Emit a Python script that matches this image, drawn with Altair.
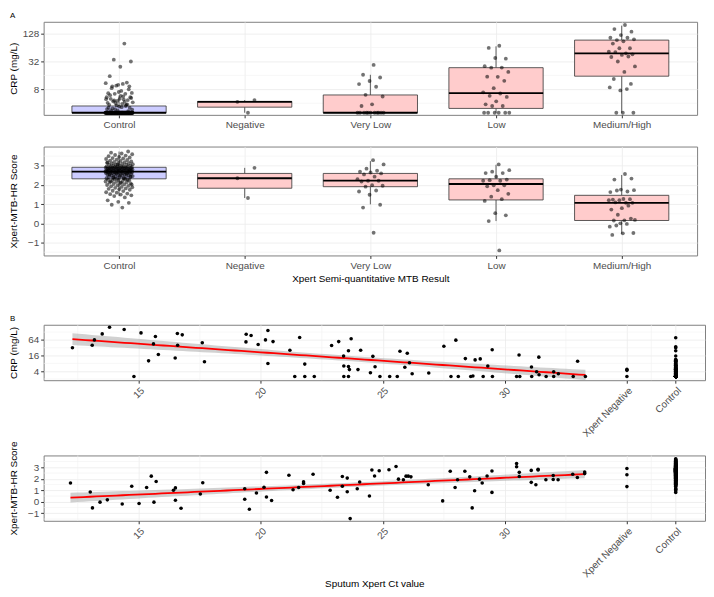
import json
import altair as alt
import numpy as np
import pandas as pd

FONT = "Liberation Sans"
groups = ["Control", "Negative", "Very Low", "Low", "Medium/High"]
box_fills = ["#CCCCFF", "#FFCCCC", "#FFCCCC", "#FFCCCC", "#FFCCCC"]

# ---------------- Panel A: CRP (mg/L) by Xpert semi-quantitative group ----------------
crp_control = [2.5] * 115 + [
    78, 35, 32, 24.6, 15.4, 11.2, 9.6, 10.9, 10.5, 9.3,
    9.3, 7.0, 6.6, 6.4, 6.4, 6.7, 7.4, 5.0, 4.7, 4.5,
    5.4, 4.8, 4.4, 5.4, 5.0, 3.7, 3.7, 4.0, 4.2, 3.9,
    8.5, 8.0, 10.0, 4.1, 4.3, 4.6, 5.2, 5.8, 6.0, 3.8,
    3.6, 4.9, 5.6, 3.1, 3.2, 3.4, 3.2, 3.5, 3.0, 2.9,
    3.3, 2.8, 2.7, 2.8, 3.0]
crp_negative = [2.5, 4.3, 4.7]
crp_verylow = [27, 16.5, 14.4, 12.1, 10.4, 9.1, 6.1, 5.6, 3.8, 3.5,
               2.5, 2.5, 2.5, 2.5, 2.5, 2.5, 2.5, 2.5, 2.5, 2.5, 2.5]
crp_low = [70, 62.8, 36.8, 38, 25.3, 23.6, 23.5, 19, 14.9, 15, 12.2, 8.5, 6.9,
           6.5, 5.8, 5.5, 4.4, 3.8, 3.5, 3.5, 2.5, 2.5, 2.5, 2.5, 2.5, 2.5]
crp_medhigh = [196, 160, 141, 119, 104, 104, 92.6, 96, 87, 78, 61.7, 61.7, 52,
               48, 51, 45.6, 44.4, 40, 41, 32, 25, 19, 13.4, 10.5, 7.6, 8.8, 8.1,
               2.5, 2.5, 2.5]

# box statistics (CRP)
crp_q1 = [2.5, 3.3, 2.5, 3.1, 15.4]
crp_med = [2.5, 4.3, 2.5, 6.6, 48]
crp_q3 = [3.5, 4.4, 6.05, 23.5, 92.6]
crp_lo = [2.5, 2.5, 2.5, 2.5, 2.5]
crp_hi = [5.8, 4.7, 16.5, 68, 190]

# ---------------- Panel A: Xpert-MTB-HR score ----------------
score_control = [
    0.82, 0.97, 1.07, 1.12, 1.2, 1.35, 1.42, 1.46, 1.5, 1.52, 1.55, 1.6, 1.62,
    1.68, 1.7, 1.75, 1.78, 1.8, 1.82, 1.85, 1.88, 1.9, 1.93, 1.95, 1.98,
    2.0, 2.03, 2.05, 2.08, 2.1, 2.12, 2.14, 2.16, 2.18, 2.2, 2.22, 2.24, 2.26,
    2.28, 2.3, 2.31, 2.02, 2.11, 2.19, 2.27,
    2.33, 2.35, 2.36, 2.38, 2.4, 2.41, 2.42, 2.44, 2.45, 2.46, 2.48, 2.5, 2.51,
    2.52, 2.53, 2.55, 2.56, 2.57, 2.58, 2.59, 2.6, 2.61, 2.62, 2.62, 2.63, 2.64,
    2.64, 2.65, 2.65, 2.66, 2.66, 2.67, 2.67, 2.68, 2.68, 2.69, 2.34, 2.39,
    2.43, 2.47, 2.54, 2.6, 2.63,
    2.7, 2.7, 2.71, 2.71, 2.72, 2.72, 2.73, 2.73, 2.74, 2.74, 2.75, 2.75, 2.76,
    2.76, 2.77, 2.77, 2.78, 2.78, 2.79, 2.8, 2.8, 2.81, 2.82, 2.82, 2.83, 2.84,
    2.85, 2.85, 2.86, 2.87, 2.88, 2.88, 2.89, 2.9, 2.9, 2.91, 2.91, 2.79, 2.83,
    2.86, 2.89, 2.92, 2.92,
    2.93, 2.94, 2.95, 2.96, 2.97, 2.98, 3.0, 3.01, 3.02, 3.04, 3.05, 3.06, 3.08,
    3.1, 3.12, 3.13, 3.15, 3.17, 3.19, 3.2, 3.22, 3.25, 3.27, 3.3, 3.32, 3.35,
    3.38, 3.4, 3.43, 3.46, 3.5, 3.53, 3.56, 3.6, 3.64, 3.68, 3.74, 3.05, 3.15]
score_negative = [1.32, 2.35, 2.89]
score_verylow = [-0.49, 0.82, 0.97, 1.49, 1.66, 1.71, 1.91, 1.96, 1.99, 2.18,
                 2.22, 2.22, 2.3, 2.43, 2.55, 2.6, 2.65, 2.69, 2.74, 2.85, 3.07, 3.29]
score_low = [-1.41, 0.12, 0.42, 0.53, 1.17, 1.26, 1.39, 1.54, 1.73, 1.93, 1.98,
             1.98, 2.22, 2.22, 2.25, 2.28, 2.43, 2.62, 2.62, 2.69, 2.77, 3.07]
score_medhigh = [2.57, 2.28, 2.33, 1.76, 1.63, 1.66, 1.71, 1.73, 1.27, 1.24, 1.26,
                 1.21, 1.21, 1.07, 1.09, 1.07, 0.79, 0.72, 0.92, 0.45, 0.18, 0.16,
                 0.15, 0.25, 0.0, -0.17, -0.03, -0.11, -0.5, -0.52, -0.6]

sc_q1 = [2.32, 1.83, 1.91, 1.22, 0.15]
sc_med = [2.69, 2.35, 2.22, 2.05, 1.07]
sc_q3 = [2.92, 2.6, 2.6, 2.32, 1.46]
sc_lo = [1.42, 1.32, 0.99, 0.12, -0.54]
sc_hi = [3.74, 2.89, 3.24, 3.05, 2.52]

# ---------------- Panel B: Ct value vs CRP / score ----------------
b1_ct = [12.28, 13.09, 13.18, 13.5, 13.8, 14.4, 14.8, 15.09, 15.4, 15.6,
         15.68, 15.8, 16.49, 16.58, 16.59, 16.78, 17.6, 17.69, 19.4, 19.39,
         19.6, 19.89, 20.19, 20.29, 20.29, 20.5, 21.19, 21.59, 21.39, 21.8,
         21.8, 22.19, 22.9, 23.19, 23.39, 23.4, 23.4, 23.59, 23.59, 23.59,
         23.7, 23.63, 23.98, 24.09, 24.49, 24.59, 24.68, 24.88, 25.28, 25.59,
         25.7, 25.9, 26.0, 26.09, 26.2, 26.88, 27.5, 27.79, 27.99, 28.09,
         28.38, 28.6, 28.69, 28.78, 28.99, 29.11, 29.3, 29.48, 29.49, 30.48,
         30.58, 30.61, 31.09, 31.1, 31.3, 31.39, 31.4, 31.69, 32.0, 32.0,
         32.19, 32.8, 32.98, 33.3]
b1_crp = [32.1, 39.6, 64, 109, 198, 161, 2.5, 119, 10, 45,
          86, 17.6, 12.8, 112, 39.6, 100, 49.6, 9.3, 105, 53.6,
          94, 42.5, 64, 148, 7.9, 55, 25.4, 79, 2.5, 7.5,
          2.5, 2.5, 38.9, 55, 15.3, 6.3, 2.5, 24.5, 6, 2.5,
          71, 4.6, 4.6, 25.4, 3.5, 14.9, 5.9, 2.5, 2.5, 2.5,
          23.3, 5.7, 19.6, 8.4, 3.2, 3.4, 36.5, 2.5, 62.6, 2.5,
          12.2, 2.5, 2.6, 10.9, 11.9, 2.5, 6.3, 26.6, 2.5, 2.5,
          16.8, 2.5, 5.8, 2.5, 3.8, 13.9, 2.9, 2.5, 3.8, 2.5,
          3.2, 2.5, 9.7, 2.5]

b2_ct = [12.2, 13.01, 13.1, 13.41, 13.71, 14.32, 14.71, 15.01, 15.32, 15.51,
         15.62, 15.71, 16.42, 16.5, 16.5, 16.73, 17.52, 17.62, 19.34, 19.34,
         19.53, 19.82, 20.13, 20.23, 20.23, 20.44, 21.15, 21.32, 21.55, 21.75,
         21.75, 22.14, 22.84, 23.14, 23.34, 23.34, 23.54, 23.54, 23.66, 23.95,
         24.05, 24.45, 24.55, 24.66, 24.85, 25.25, 25.54, 25.64, 25.84, 25.95,
         26.04, 26.15, 26.86, 27.45, 27.76, 27.96, 28.06, 28.36, 28.56, 28.66,
         28.76, 28.96, 29.07, 29.27, 29.47, 29.47, 30.48, 30.48, 30.59, 30.59,
         31.08, 31.08, 31.27, 31.36, 31.36, 31.68, 31.98, 31.98, 32.18, 32.78,
         32.97, 33.27, 33.27]
b2_score = [1.64, 0.85, -0.53, -0.03, 0.17, -0.19, 1.35, -0.14, 1.24, 2.23,
            -0.03, 1.77, 1.01, 1.21, 0.14, -0.56, 0.68, 1.66, 1.13, 0.23,
            -0.64, 0.76, 1.27, 2.56, 0.42, 0.12, 2.31, 1.05, 1.24, 1.73,
            1.6, 2.4, 1.01, 0.4, 2.2, 1.35, 2.06, 0.88, -1.46, 1.13,
            1.72, 0.51, 2.76, 2.25, 2.7, 2.78, 3.07, 1.97, 1.92, 2.23,
            2.23, 2.17, 1.49, 0.08, 2.65, 1.24, 1.92, 2.65, 2.17, -0.53,
            0.96, 1.97, 1.64, 2.25, 2.68, 0.82, 3.32, 3.04, 2.56, 2.2,
            2.73, 1.69, 1.49, 2.82, 2.76, 1.92, 2.28, 1.94, 1.92, 2.4,
            2.11, 2.59, 2.45]

# positions of the two non-numeric categories on the Ct axis
NEG_CT = 35
CTRL_CT = 37
ct_ticks = [15, 20, 25, 30, NEG_CT, CTRL_CT]
ct_minor = [12.5, 17.5, 22.5, 27.5, 32.5, 36]

# ---------------- layout constants ----------------
WA = 660
WB = 668
HA1, HA2, HB1, HB2 = 94, 110, 56, 66
GAP1, GAP2, GAP3 = 32, 70, 76

GROUPS_JS = json.dumps(groups)

axis_common = dict(labelFont=FONT, titleFont=FONT, labelFontSize=10, titleFontSize=10,
                   labelColor="#4D4D4D", titleColor="#000000", titleFontWeight="normal",
                   tickColor="#333333", tickSize=3, domain=False, gridColor="#EBEBEB",
                   gridWidth=0.8, labelPadding=2, titlePadding=3)


def build_points(lists):
    rows = []
    for g, vals in zip(groups, lists):
        for v in vals:
            rows.append({"group": g, "value": v})
    return pd.DataFrame(rows)


def build_box(q1, med, q3, lo, hi):
    return pd.DataFrame({"group": groups, "q1": q1, "med": med, "q3": q3,
                         "lo": lo, "hi": hi, "fill": box_fills})


def panel_label(letter):
    return alt.Chart(pd.DataFrame({"t": [letter]})).mark_text(
        align="left", baseline="top", fontSize=8, font=FONT, color="black"
    ).encode(text="t:N", x=alt.value(-34), y=alt.value(-10))


def box_panel(pts, box, yscale, yvalues, ytitle, minor, xtitle, width, height, label=None):
    xscale = alt.Scale(domain=[-0.6, 4.6], nice=False, zero=False)

    def xenc(field):
        return alt.X(f"{field}:Q", scale=xscale, title=xtitle,
                     axis=alt.Axis(values=[0, 1, 2, 3, 4], grid=True, labelAngle=0,
                                   labelExpr=f"{GROUPS_JS}[datum.value]"))

    def yenc(field):
        return alt.Y(f"{field}:Q", scale=yscale, title=ytitle,
                     axis=alt.Axis(values=yvalues, grid=True, format="d"))

    boxbase = alt.Chart(box).transform_calculate(
        idx=f"indexof({GROUPS_JS}, datum.group)"
    ).transform_calculate(
        xl="datum.idx - 0.375", xr="datum.idx + 0.375"
    )

    grid = alt.Chart(pd.DataFrame({"v": minor})).mark_rule(
        color="#F2F2F2", strokeWidth=0.6).encode(y=yenc("v"))
    w1 = boxbase.mark_rule(color="#333333", strokeWidth=0.8).encode(
        x=xenc("idx"), y=yenc("lo"), y2="q1:Q")
    w2 = boxbase.mark_rule(color="#333333", strokeWidth=0.8).encode(
        x=xenc("idx"), y=yenc("q3"), y2="hi:Q")
    bars = boxbase.mark_rect(stroke="#333333", strokeWidth=0.8).encode(
        x=xenc("xl"), x2="xr:Q", y=yenc("q1"), y2="q3:Q",
        fill=alt.Fill("fill:N", scale=None))
    meds = boxbase.mark_rule(color="black", strokeWidth=1.8).encode(
        x=xenc("xl"), x2="xr:Q", y=yenc("med"))
    dots = alt.Chart(pts).transform_calculate(
        idx=f"indexof({GROUPS_JS}, datum.group)"
    ).transform_window(
        rn="row_number()", groupby=["group"]
    ).transform_calculate(
        xj="datum.idx + ((datum.rn * 0.618034) % 1 - 0.5) * 0.22"
    ).mark_circle(size=15, color="black", opacity=0.55).encode(
        x=xenc("xj"), y=yenc("value"))
    layers = [grid, w1, w2, bars, meds, dots]
    if label:
        layers.append(panel_label(label))
    return alt.layer(*layers).properties(width=width, height=height)


def fit_band(x, y):
    x = np.asarray(x, dtype=float)
    y = np.asarray(y, dtype=float)
    n = len(x)
    b, a = np.polyfit(x, y, 1)
    resid = y - (a + b * x)
    s = np.sqrt(np.sum(resid ** 2) / (n - 2))
    xbar = x.mean()
    sxx = np.sum((x - xbar) ** 2)
    xs = np.linspace(x.min(), x.max(), 80)
    fit = a + b * xs
    se = s * np.sqrt(1.0 / n + (xs - xbar) ** 2 / sxx)
    t = 1.99
    return xs, fit, fit - t * se, fit + t * se


def scatter_panel(ct, vals, neg_vals, ctrl_vals, log, yscale, yvalues, ytitle,
                  yminor, xtitle, width, height, label=None):
    xscale = alt.Scale(domain=[11.1, 38.2], nice=False, zero=False)

    def xenc(field):
        return alt.X(f"{field}:Q", scale=xscale, title=xtitle,
                     axis=alt.Axis(values=ct_ticks, grid=True, labelAngle=315,
                                   labelAlign="right", labelBaseline="top",
                                   titlePadding=0,
                                   labelExpr=f"datum.value == {NEG_CT} ? 'Xpert Negative' : "
                                             f"(datum.value == {CTRL_CT} ? 'Control' : datum.label)"))

    def yenc(field):
        return alt.Y(f"{field}:Q", scale=yscale, title=ytitle,
                     axis=alt.Axis(values=yvalues, grid=True, format="d"))

    if log:
        xs, fit, lo, hi = fit_band(ct, np.log2(vals))
        fit, lo, hi = 2 ** fit, 2 ** lo, 2 ** hi
    else:
        xs, fit, lo, hi = fit_band(ct, vals)
    fitdf = pd.DataFrame({"x": xs, "fit": fit, "lo": lo, "hi": hi})

    pts = pd.DataFrame({
        "x": list(ct) + [NEG_CT] * len(neg_vals) + [CTRL_CT] * len(ctrl_vals),
        "value": list(vals) + list(neg_vals) + list(ctrl_vals)})

    gx = alt.Chart(pd.DataFrame({"v": ct_minor})).mark_rule(
        color="#F2F2F2", strokeWidth=0.6).encode(x=xenc("v"))
    gy = alt.Chart(pd.DataFrame({"v": yminor})).mark_rule(
        color="#F2F2F2", strokeWidth=0.6).encode(y=yenc("v"))
    band = alt.Chart(fitdf).mark_area(color="#999999", opacity=0.45).encode(
        x=xenc("x"), y=yenc("lo"), y2="hi:Q")
    line = alt.Chart(fitdf).mark_line(color="#FF0000", strokeWidth=1.8).encode(
        x=xenc("x"), y=yenc("fit"))
    dots = alt.Chart(pts).mark_circle(size=13, color="black", opacity=1).encode(
        x=xenc("x"), y=yenc("value"))
    layers = [gx, gy, band, line, dots]
    if label:
        layers.append(panel_label(label))
    return alt.layer(*layers).properties(width=width, height=height)


def spacer(h, w):
    return alt.Chart(pd.DataFrame({"s": [0]})).mark_point(opacity=0).encode(
        x=alt.value(0), y=alt.value(0)
    ).properties(width=w, height=h, view=alt.ViewBackground(strokeOpacity=0))


a1 = box_panel(
    build_points([crp_control, crp_negative, crp_verylow, crp_low, crp_medhigh]),
    build_box(crp_q1, crp_med, crp_q3, crp_lo, crp_hi),
    alt.Scale(type="log", base=2, domain=[2.25, 230], nice=False),
    [8, 32, 128], "CRP (mg/L)", [4, 16, 64], None, WA, HA1, label="A")

a2 = box_panel(
    build_points([score_control, score_negative, score_verylow, score_low, score_medhigh]),
    build_box(sc_q1, sc_med, sc_q3, sc_lo, sc_hi),
    alt.Scale(domain=[-1.67, 4.0], nice=False, zero=False),
    [-1, 0, 1, 2, 3], "Xpert-MTB-HR Score", [-1.5, -0.5, 0.5, 1.5, 2.5, 3.5],
    "Xpert Semi-quantitative MTB Result", WA, HA2)

b1 = scatter_panel(
    b1_ct, b1_crp, crp_negative, crp_control, True,
    alt.Scale(type="log", base=2, domain=[1.8, 245], nice=False),
    [4, 16, 64], "CRP (mg/L)", [2, 8, 32, 128], None, WB, HB1, label="B")

b2 = scatter_panel(
    b2_ct, b2_score, score_negative, score_control, False,
    alt.Scale(domain=[-1.65, 4.03], nice=False, zero=False),
    [-1, 0, 1, 2, 3], "Xpert-MTB-HR Score", [-1.5, -0.5, 0.5, 1.5, 2.5, 3.5],
    "Sputum Xpert Ct value", WB, HB2)

chart = alt.vconcat(
    a1, spacer(GAP1, 10), a2, spacer(GAP2, 10), b1, spacer(GAP3, 10), b2,
    spacing=0, bounds="flush",
).properties(padding=0, background="white").configure_view(
    stroke="#7F7F7F", strokeWidth=1
).configure_axis(**axis_common).configure_axisY(minExtent=22, maxExtent=22)

chart.save("out.html", embed_options={"renderer": "svg", "actions": False})
